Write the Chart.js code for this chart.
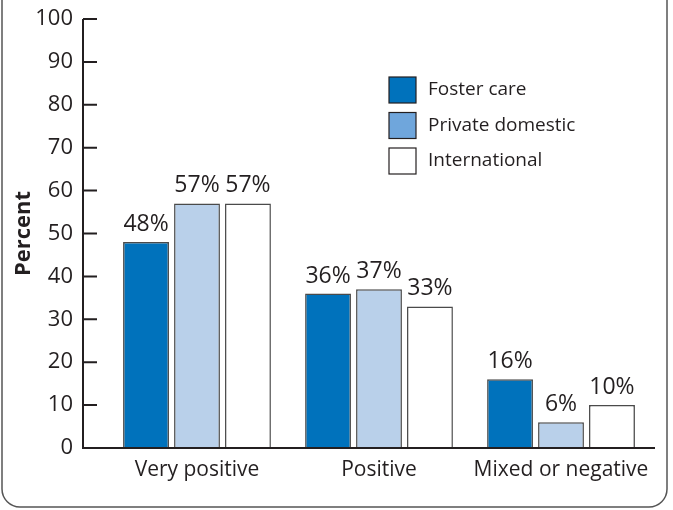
<!DOCTYPE html>
<html>
<head>
<meta charset="utf-8">
<script src="https://cdn.jsdelivr.net/npm/chart.js@4/dist/chart.umd.min.js"></script>
<style>
  html, body { margin: 0; padding: 0; background: #fff; }
  #wrap { width: 673px; height: 510px; position: relative; }
</style>
</head>
<body>
<div id="wrap"><canvas id="chart" width="673" height="510"></canvas></div>
<script>
const categories = ['Very positive', 'Positive', 'Mixed or negative'];
const seriesNames = ['Foster care', 'Private domestic', 'International'];
const fosterCare = [48, 36, 16];
const privateDomestic = [57, 37, 6];
const international = [57, 33, 10];
const barColors = ['#0072bc', '#b9d0ea', '#ffffff'];
const legendColors = ['#0072bc', '#6fa6dc', '#ffffff'];
const yTicks = [0, 10, 20, 30, 40, 50, 60, 70, 80, 90, 100];

const ink = '#231f20';
const edge = '#4a4a4a';
const font = 'Open Sans, sans-serif';

// rounded frame around the figure
const framePlugin = {
  id: 'frame',
  beforeDraw(chart) {
    const ctx = chart.ctx;
    ctx.save();
    ctx.strokeStyle = '#555';
    ctx.lineWidth = 1.5;
    ctx.beginPath();
    ctx.roundRect(2, -30, 665, 537, 18);
    ctx.stroke();
    ctx.restore();
  }
};

// axis lines with inward ticks, legend and value labels
const decorPlugin = {
  id: 'decor',
  afterDatasetsDraw(chart) {
    const ctx = chart.ctx;
    const y = chart.scales.y;
    const axisX = 83;
    ctx.save();
    ctx.strokeStyle = ink;
    ctx.lineWidth = 2;
    ctx.beginPath();
    ctx.moveTo(axisX, y.getPixelForValue(100));
    ctx.lineTo(axisX, y.getPixelForValue(0));
    ctx.lineTo(655, y.getPixelForValue(0));
    yTicks.forEach(v => {
      const py = y.getPixelForValue(v);
      ctx.moveTo(axisX, py);
      ctx.lineTo(axisX + 14, py);
    });
    ctx.stroke();

    // value labels
    ctx.fillStyle = ink;
    ctx.font = '23px ' + font;
    ctx.textAlign = 'center';
    ctx.textBaseline = 'alphabetic';
    chart.data.datasets.forEach((ds, i) => {
      chart.getDatasetMeta(i).data.forEach((bar, j) => {
        ctx.fillText(ds.data[j] + '%', bar.x, bar.y - 11);
      });
    });

    // legend
    ctx.font = '19px ' + font;
    ctx.textAlign = 'left';
    ctx.textBaseline = 'middle';
    ctx.lineWidth = 1.2;
    seriesNames.forEach((name, i) => {
      const top = 77 + i * 35.5;
      ctx.fillStyle = legendColors[i];
      ctx.fillRect(389, top, 27, 26);
      ctx.strokeStyle = ink;
      ctx.strokeRect(389, top, 27, 26);
      ctx.fillStyle = ink;
      ctx.fillText(name, 428, top + 13);
    });
    ctx.restore();
  }
};

new Chart(document.getElementById('chart').getContext('2d'), {
  type: 'bar',
  data: {
    labels: categories,
    datasets: [fosterCare, privateDomestic, international].map((vals, i) => ({
      label: seriesNames[i],
      data: vals,
      backgroundColor: barColors[i],
      borderColor: edge,
      borderWidth: 1.5,
      categoryPercentage: 0.84,
      barPercentage: 0.9
    }))
  },
  options: {
    responsive: false,
    animation: false,
    layout: { padding: { top: 19, right: 21, bottom: 0, left: 0 } },
    plugins: { legend: { display: false }, tooltip: { enabled: false } },
    scales: {
      x: {
        grid: { display: false, drawTicks: false },
        border: { display: false },
        ticks: { color: ink, font: { family: font, size: 21 }, padding: 9 },
        afterFit(scale) { scale.height = 62; }
      },
      y: {
        min: 0,
        max: 100,
        grid: { display: false, drawTicks: false },
        border: { display: false },
        ticks: { stepSize: 10, color: ink, font: { family: font, size: 22 }, padding: 33 },
        title: {
          display: true,
          text: 'Percent',
          color: ink,
          font: { family: font, size: 22, weight: 'bold' },
          padding: { top: 11, bottom: 0 }
        },
        afterFit(scale) {
          scale.width = 106;
          scale.paddingTop = 10;
          scale.paddingBottom = 10;
        }
      }
    }
  },
  plugins: [framePlugin, decorPlugin]
});
</script>
</body>
</html>
